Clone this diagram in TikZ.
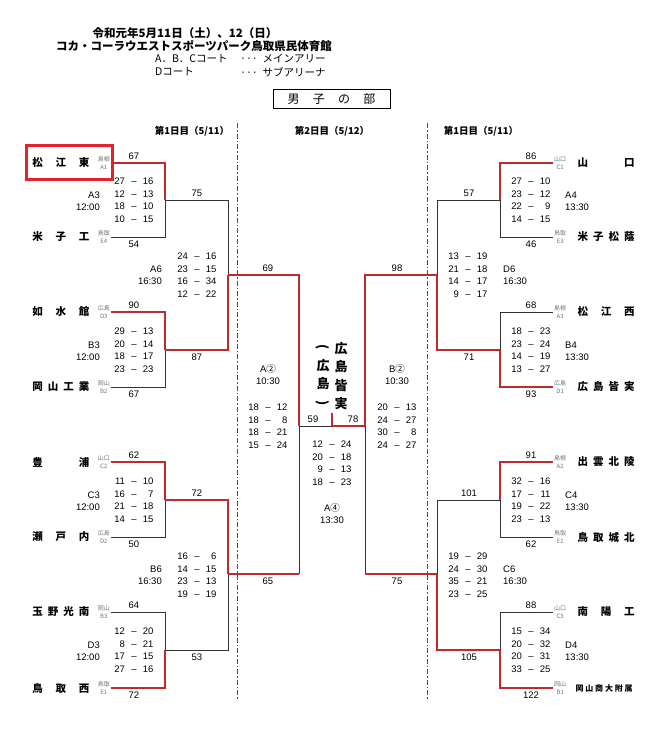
\documentclass[tikz,border=0pt]{standalone}
\usepackage{fontspec}
\setmainfont{Liberation Sans}
\newfontfamily\jp{Noto Sans CJK JP}
\usetikzlibrary{positioning}
\definecolor{winred}{HTML}{BE2A2E}
\definecolor{boxred}{HTML}{E2232B}
\newcommand\tmname[1]{\makebox[57pt][s]{#1}}
\newcommand\gm[2]{\makebox[10.5pt][r]{#1}\makebox[18pt]{--}\makebox[10.5pt][r]{#2}}
\newcommand\vparen[1]{\rotatebox[origin=c]{-90}{#1}}
\tikzset{
    team/.style={inner sep=0pt, font=\jp\bfseries\fontsize{10.5}{12}\selectfont},
    pref/.style={inner sep=1pt, minimum width=14pt, align=center, text=black!55, font=\jp\fontsize{6}{7.5}\selectfont},
    pts/.style={inner sep=0pt, font=\fontsize{9.5}{10}\selectfont},
    sets/.style={inner sep=0pt, align=center, font=\fontsize{9.5}{12.5}\selectfont},
    court/.style={inner sep=0pt, font=\fontsize{9.5}{12}\selectfont},
    head/.style={inner sep=0pt, font=\jp\bfseries\fontsize{9.5}{11}\selectfont},
    title/.style={inner sep=0pt, font=\jp\bfseries\fontsize{11.5}{13}\selectfont},
    note/.style={inner sep=0pt, anchor=west, font=\jp\fontsize{10.5}{12}\selectfont},
    champ/.style={inner sep=0pt, align=center, font=\jp\bfseries\fontsize{13}{18.5}\selectfont},
    wline/.style={line width=0.9pt, draw=black!80},
    rline/.style={line width=1.6pt, draw=winred},
    daysep/.style={line width=0.9pt, draw=black!70, dash pattern=on 5pt off 2pt on 1.5pt off 2pt}
}

\begin{document}
\begin{tikzpicture}[x=1pt, y=-1pt]
        \useasboundingbox (0,0) rectangle (650,732);
        \node[title] (t1) at (185,33) {令和元年5月11日（土）、12（日）};
        \node[title] (t2) at (194,46) {コカ・コーラウエストスポーツパーク鳥取県民体育館};
        \node[note] (c1) at (155,59) {A．B．Cコート};
        \node[note] (c2) at (155,72) {Dコート};
        \node[note] (a1x) at (240,59) {···\ \ メインアリー};
        \node[note] (a2x) at (240,72) {···\ \ サブアリーナ};
        \node[draw, line width=0.8pt, minimum width=117pt, minimum height=19pt, font=\jp\fontsize{12}{14}\selectfont] (sect) at (331.5,98.5) {\makebox[88pt][s]{男\hfill 子\hfill の\hfill 部}};

        \node[head] (d1) at (192,131) {第1日目（5/11）};
        \node[head] (d2) at (332,131) {第2日目（5/12）};
        \node[head] (d3) at (481,131) {第1日目（5/11）};
        \coordinate (sepL1) at (237,123);
        \coordinate (sepL2) at (237,700);
        \coordinate (sepR1) at (427,123);
        \coordinate (sepR2) at (427,700);
        \draw[daysep] (sepL1) -- (sepL2);
        \draw[daysep] (sepR1) -- (sepR2);

        \coordinate (m1) at (165,200);
        \coordinate (m2) at (165,350);
        \coordinate (m3) at (165,500);
        \coordinate (m4) at (165,650);
        \coordinate (n1) at (500,200);
        \coordinate (n2) at (500,350);
        \coordinate (n3) at (500,500);
        \coordinate (n4) at (500,650);
        \coordinate (q1) at (228,275);
        \coordinate (q2) at (228,574);
        \coordinate (r1) at (437,275);
        \coordinate (r2) at (437,574);
        \coordinate (fL) at (299,426);
        \coordinate (fR) at (365,426);
        \coordinate (fm) at (332,426);
        \coordinate (ft) at (332,413);

        \node[pref, anchor=east] (pa1) at (111,163) {島根\\A1};
        \node[team, left=7pt of pa1] (a1) {\tmname{松\hfill 江\hfill 東}};
        \node[pref, anchor=east] (pa2) at (111,237) {鳥取\\E4};
        \node[team, left=7pt of pa2] (a2) {\tmname{米\hfill 子\hfill 工}};
        \node[pref, anchor=east] (pa3) at (111,312) {広島\\D3};
        \node[team, left=7pt of pa3] (a3) {\tmname{如\hfill 水\hfill 館}};
        \node[pref, anchor=east] (pa4) at (111,387) {岡山\\B2};
        \node[team, left=7pt of pa4] (a4) {\tmname{岡\hfill 山\hfill 工\hfill 業}};
        \node[pref, anchor=east] (pa5) at (111,462) {山口\\C2};
        \node[team, left=7pt of pa5] (a5) {\tmname{豊\hfill 浦}};
        \node[pref, anchor=east] (pa6) at (111,537) {広島\\D2};
        \node[team, left=7pt of pa6] (a6) {\tmname{瀬\hfill 戸\hfill 内}};
        \node[pref, anchor=east] (pa7) at (111,612) {岡山\\B3};
        \node[team, left=7pt of pa7] (a7) {\tmname{玉\hfill 野\hfill 光\hfill 南}};
        \node[pref, anchor=east] (pa8) at (111,688) {鳥取\\E1};
        \node[team, left=7pt of pa8] (a8) {\tmname{鳥\hfill 取\hfill 西}};
        \draw[boxred, line width=3pt] (26,145) rectangle (112,179);

        \node[pref, anchor=west] (pb1) at (553,163) {山口\\C1};
        \node[team, right=10pt of pb1] (b1) {\tmname{山\hfill 口}};
        \node[pref, anchor=west] (pb2) at (553,237) {鳥取\\E3};
        \node[team, right=10pt of pb2] (b2) {\tmname{米\hfill 子\hfill 松\hfill 蔭}};
        \node[pref, anchor=west] (pb3) at (553,312) {島根\\A3};
        \node[team, right=10pt of pb3] (b3) {\tmname{松\hfill 江\hfill 西}};
        \node[pref, anchor=west] (pb4) at (553,387) {広島\\D1};
        \node[team, right=10pt of pb4] (b4) {\tmname{広\hfill 島\hfill 皆\hfill 実}};
        \node[pref, anchor=west] (pb5) at (553,462) {島根\\A2};
        \node[team, right=10pt of pb5] (b5) {\tmname{出\hfill 雲\hfill 北\hfill 陵}};
        \node[pref, anchor=west] (pb6) at (553,537) {鳥取\\E2};
        \node[team, right=10pt of pb6] (b6) {\tmname{鳥\hfill 取\hfill 城\hfill 北}};
        \node[pref, anchor=west] (pb7) at (553,612) {山口\\C3};
        \node[team, right=10pt of pb7] (b7) {\tmname{南\hfill 陽\hfill 工}};
        \node[pref, anchor=west] (pb8) at (553,688) {岡山\\B1};
        \node[team, right=8pt of pb8] (b8) {\tmname{\fontsize{8}{9}\selectfont 岡\hfill 山\hfill 商\hfill 大\hfill 附\hfill 属}};

        \draw[wline] (pa2.east) -| (m1);
        \draw[wline] (m1) -| (q1);
        \draw[wline] (pa4.east) -| (m2);
        \draw[wline] (pa6.east) -| (m3);
        \draw[wline] (pa7.east) -| (m4);
        \draw[wline] (m4) -| (q2);
        \draw[wline] (q2 -| fL) -- (fL);
        \draw[wline] (fL) -- (fm);
        \draw[wline] (pb2.west) -| (n1);
        \draw[wline] (n1) -| (r1);
        \draw[wline] (pb3.west) -| (n2);
        \draw[wline] (pb6.west) -| (n3);
        \draw[wline] (n3) -| (r2);
        \draw[wline] (pb7.west) -| (n4);
        \draw[wline] (r2 -| fR) -- (fR);

        \draw[rline] (pa1.east) -| (m1);
        \draw[rline] (pa3.east) -| (m2);
        \draw[rline] (m2) -| (q1);
        \draw[rline] (pa5.east) -| (m3);
        \draw[rline] (m3) -| (q2);
        \draw[rline] (pa8.east) -| (m4);
        \draw[rline] (q1) -| (fL);
        \draw[rline] (q2) -- (q2 -| fL);
        \draw[rline] (pb1.west) -| (n1);
        \draw[rline] (pb4.west) -| (n2);
        \draw[rline] (n2) -| (r1);
        \draw[rline] (pb5.west) -| (n3);
        \draw[rline] (pb8.west) -| (n4);
        \draw[rline] (n4) -| (r2);
        \draw[rline] (r1) -| (fR);
        \draw[rline] (r2) -- (r2 -| fR);
        \draw[rline] (fm) -- (fR);
        \draw[rline] (fm) -- (ft);

        \node[pts, above=3.5pt] (sa1) at (134,163) {67};
        \node[pts, below=3.5pt] (sa2) at (134,237) {54};
        \node[pts, above=3.5pt] (sa3) at (134,312) {90};
        \node[pts, below=3.5pt] (sa4) at (134,387) {67};
        \node[pts, above=3.5pt] (sa5) at (134,462) {62};
        \node[pts, below=3.5pt] (sa6) at (134,537) {50};
        \node[pts, above=3.5pt] (sa7) at (134,612) {64};
        \node[pts, below=3.5pt] (sa8) at (134,688) {72};
        \node[pts, above=3.5pt] (sm1) at (197,200) {75};
        \node[pts, below=3.5pt] (sm2) at (197,350) {87};
        \node[pts, above=3.5pt] (sm3) at (197,500) {72};
        \node[pts, below=3.5pt] (sm4) at (197,650) {53};
        \node[pts, above=3.5pt] (sq1) at (268,275) {69};
        \node[pts, below=3.5pt] (sq2) at (268,574) {65};
        \node[pts, above=3.5pt] (sfL) at (313,426) {59};
        \node[pts, above=3.5pt] (sfR) at (353,426) {78};
        \node[pts, above=3.5pt] (sr1) at (397,275) {98};
        \node[pts, below=3.5pt] (sr2) at (397,574) {75};
        \node[pts, above=3.5pt] (sn1) at (469,200) {57};
        \node[pts, below=3.5pt] (sn2) at (469,350) {71};
        \node[pts, above=3.5pt] (sn3) at (469,500) {101};
        \node[pts, below=3.5pt] (sn4) at (469,650) {105};
        \node[pts, above=3.5pt] (sb1) at (531,163) {86};
        \node[pts, below=3.5pt] (sb2) at (531,237) {46};
        \node[pts, above=3.5pt] (sb3) at (531,312) {68};
        \node[pts, below=3.5pt] (sb4) at (531,387) {93};
        \node[pts, above=3.5pt] (sb5) at (531,462) {91};
        \node[pts, below=3.5pt] (sb6) at (531,537) {62};
        \node[pts, above=3.5pt] (sb7) at (531,612) {88};
        \node[pts, below=3.5pt] (sb8) at (531,688) {122};

        \node[sets] (ga3) at (134,200) {\gm{27}{16}\\\gm{12}{13}\\\gm{18}{10}\\\gm{10}{15}};
        \node[court, anchor=east, align=right] (ca3) at (100,201) {A3\\12:00};
        \node[sets] (gb3) at (134,350) {\gm{29}{13}\\\gm{20}{14}\\\gm{18}{17}\\\gm{23}{23}};
        \node[court, anchor=east, align=right] (cb3) at (100,351) {B3\\12:00};
        \node[sets] (gc3) at (134,500) {\gm{11}{10}\\\gm{16}{7}\\\gm{21}{18}\\\gm{14}{15}};
        \node[court, anchor=east, align=right] (cc3) at (100,501) {C3\\12:00};
        \node[sets] (gd3) at (134,650) {\gm{12}{20}\\\gm{8}{21}\\\gm{17}{15}\\\gm{27}{16}};
        \node[court, anchor=east, align=right] (cd3) at (100,651) {D3\\12:00};
        \node[sets] (ga6) at (197,275) {\gm{24}{16}\\\gm{23}{15}\\\gm{16}{34}\\\gm{12}{22}};
        \node[court, anchor=east, align=right] (ca6) at (162,275) {A6\\16:30};
        \node[sets] (gb6) at (197,575) {\gm{16}{6}\\\gm{14}{15}\\\gm{23}{13}\\\gm{19}{19}};
        \node[court, anchor=east, align=right] (cb6) at (162,575) {B6\\16:30};

        \node[sets] (ga4) at (531,200) {\gm{27}{10}\\\gm{23}{12}\\\gm{22}{9}\\\gm{14}{15}};
        \node[court, anchor=west, align=left] (ca4) at (565,201) {A4\\13:30};
        \node[sets] (gb4) at (531,350) {\gm{18}{23}\\\gm{23}{24}\\\gm{14}{19}\\\gm{13}{27}};
        \node[court, anchor=west, align=left] (cb4) at (565,351) {B4\\13:30};
        \node[sets] (gc4) at (531,500) {\gm{32}{16}\\\gm{17}{11}\\\gm{19}{22}\\\gm{23}{13}};
        \node[court, anchor=west, align=left] (cc4) at (565,501) {C4\\13:30};
        \node[sets] (gd4) at (531,650) {\gm{15}{34}\\\gm{20}{32}\\\gm{20}{31}\\\gm{33}{25}};
        \node[court, anchor=west, align=left] (cd4) at (565,651) {D4\\13:30};
        \node[sets] (gd6) at (468,275) {\gm{13}{19}\\\gm{21}{18}\\\gm{14}{17}\\\gm{9}{17}};
        \node[court, anchor=west, align=left] (cd6) at (503,275) {D6\\16:30};
        \node[sets] (gc6) at (468,575) {\gm{19}{29}\\\gm{24}{30}\\\gm{35}{21}\\\gm{23}{25}};
        \node[court, anchor=west, align=left] (cc6) at (503,575) {C6\\16:30};

        \node[court, align=center] (csA) at (268,374.5) {A{\jp ②}\\10:30};
        \node[sets] (gsA) at (268,426) {\gm{18}{12}\\\gm{18}{8}\\\gm{18}{21}\\\gm{15}{24}};
        \node[court, align=center] (csB) at (397,374.5) {B{\jp ②}\\10:30};
        \node[sets] (gsB) at (397,426) {\gm{20}{13}\\\gm{24}{27}\\\gm{30}{8}\\\gm{24}{27}};
        \node[sets] (gfin) at (332,463) {\gm{12}{24}\\\gm{20}{18}\\\gm{9}{13}\\\gm{18}{23}};
        \node[court, align=center] (cfin) at (332,514) {A{\jp ④}\\13:30};

        \node[champ] (win) at (341,376) {広\\島\\皆\\実};
        \node[champ] (winpf) at (323,376) {\vparen{(}\\広\\島\\\vparen{)}};
    \end{tikzpicture}
\end{document}
